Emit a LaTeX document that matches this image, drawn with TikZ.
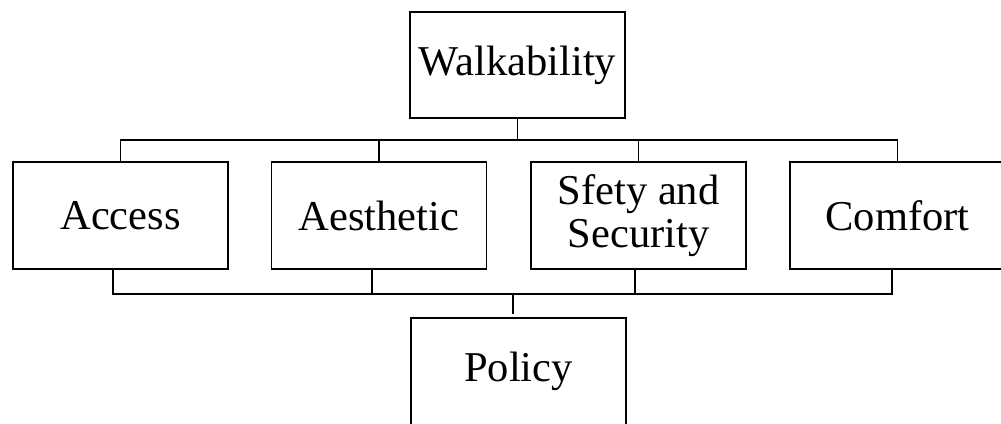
\documentclass[tikz,border=0pt]{standalone}
\usepackage{fontspec}
\setmainfont{Liberation Serif}
\begin{document}
\begin{tikzpicture}[x=1pt,y=-1pt,
  box/.style={draw,line width=1.4pt,minimum width=215pt,minimum height=107pt,inner sep=0pt,align=center,
    font=\fontsize{42.5}{43}\selectfont},
  conn/.style={line width=1.4pt}]
\useasboundingbox (0,0) rectangle (1001,423);
\begin{scope}
\clip (0,0) rectangle (1001,423);
\node[box,minimum height=106pt] (W) at (517.5,65) {Walkability};
\node[box] (A) at (120.5,215.5) {Access};
\node[box] (E) at (379,215.5) {Aesthetic};
\node[box] (S) at (638.5,215.5) {Sfety and\\Security};
\node[box] (C) at (897.5,215.5) {Comfort};
\node[box] (P) at (518.5,371.5) {Policy};
\coordinate (topbus) at (0,140);
\coordinate (botbus) at (0,294);
\draw[conn] (W.south) -- (W.south |- topbus);
\draw[conn] (A.north) -- (A.north |- topbus) -- (C.north |- topbus) -- (C.north);
\draw[conn] (E.north) -- (E.north |- topbus);
\draw[conn] (S.north) -- (S.north |- topbus);
\draw[conn] ([xshift=-7.5pt]A.south) -- ([xshift=-7.5pt]A.south |- botbus) -- ([xshift=-5.5pt]C.south |- botbus) -- ([xshift=-5.5pt]C.south);
\draw[conn] ([xshift=-7pt]E.south) -- ([xshift=-7pt]E.south |- botbus);
\draw[conn] ([xshift=-3.5pt]S.south) -- ([xshift=-3.5pt]S.south |- botbus);
\draw[conn] ([xshift=-5.5pt]P.north |- botbus) -- ([xshift=-5.5pt,yshift=3pt]P.north);
\end{scope}
\end{tikzpicture}
\end{document}
